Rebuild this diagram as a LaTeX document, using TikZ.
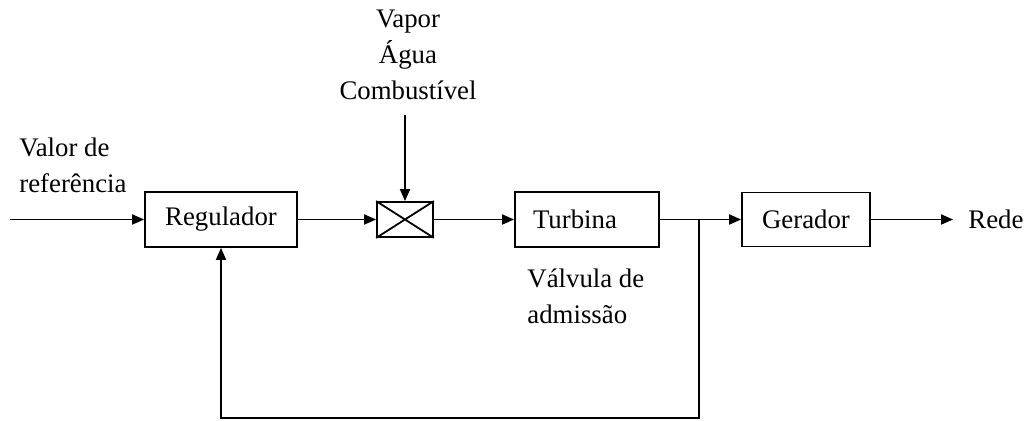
\documentclass[tikz,border=0pt]{standalone}
\usepackage{fontspec}
\setmainfont{Liberation Serif}
\usetikzlibrary{arrows.meta}
\begin{document}
\begin{tikzpicture}[x=0.5pt,y=-0.5pt,
  blk/.style={draw,line width=0.9pt,inner sep=0pt,font=\fontsize{13.4}{18}\selectfont},
  txt/.style={inner sep=0pt,font=\fontsize{13.4}{18}\selectfont},
  conn/.style={line width=0.9pt},
  arr/.style={conn,-{Triangle[length=6pt,width=5pt]}}]
\useasboundingbox (0,0) rectangle (1033,421);
\node[blk,minimum width=76pt,minimum height=27.5pt] (reg) at (221,219.5) {Regulador};
\node[blk,minimum width=28pt,minimum height=17.5pt] (val) at (405,219.5) {};
\draw[conn] (val.north west) -- (val.south east) (val.south west) -- (val.north east);
\node[blk,minimum width=72pt,minimum height=27.5pt] (tur) at (587,219.5) {Turbina\hspace*{12pt}};
\node[blk,minimum width=64pt,minimum height=27pt] (ger) at (806,219.5) {Gerador};
\node[txt,align=center] (fuel) at (408,55) {Vapor\\Água\\Combustível};
\node[txt,align=left,anchor=west] (ref) at (19,165) {Valor de\\referência};
\node[txt,align=left,anchor=west] (adm) at (527,296) {Válvula de\\admissão};
\node[txt,anchor=west] (rede) at (968,219.5) {Rede};
\coordinate (in) at (10,219.5);
\coordinate (top) at (val.north |- 0,115);
\coordinate (j) at (699,219.5);
\coordinate (fb) at (699,418);
\coordinate (out) at (953,219.5);
\draw[arr] (in) -- (reg.west);
\draw[arr] (reg.east) -- (val.west);
\draw[arr] (top) -- (val.north);
\draw[arr] (val.east) -- (tur.west);
\draw[arr] (tur.east) -- (ger.west);
\draw[arr] (j) -- (fb) -| (reg.south);
\draw[arr] (ger.east) -- (out);
\end{tikzpicture}
\end{document}
